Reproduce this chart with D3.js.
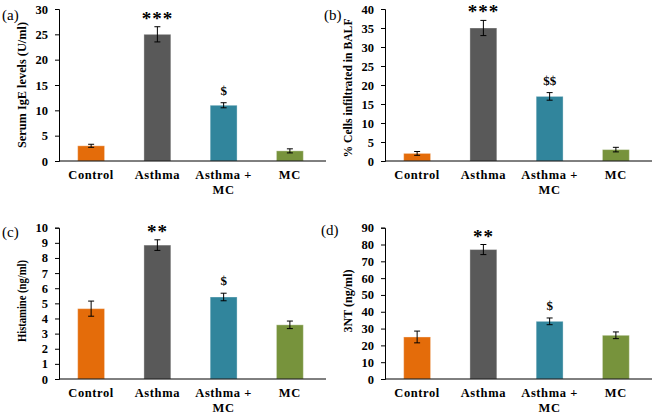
<!DOCTYPE html>
<html><head><meta charset="utf-8">
<script src="https://cdn.jsdelivr.net/npm/d3@7/dist/d3.min.js"></script>
<style>
body{margin:0;background:#fff;}
svg text{font-family:"Liberation Serif","Times New Roman",serif;}
</style></head>
<body><svg id="c" width="652" height="415"></svg>
<script>
const categories = ["Control","Asthma","Asthma + MC","MC"];
const colors = ["#E46C0A","#595959","#31859C","#77933C"];

const igeValues = [3.0, 25.0, 11.0, 2.0];
const igeErrors = [0.3, 1.5, 0.5, 0.4];
const igeMarks  = ["", "***", "$", ""];
const igeTicks  = [0,5,10,15,20,25,30];

const cellsValues = [2.0, 35.0, 17.0, 3.0];
const cellsErrors = [0.5, 2.0, 1.0, 0.6];
const cellsMarks  = ["", "***", "$$", ""];
const cellsTicks  = [0,5,10,15,20,25,30,35,40];

const histValues = [4.65, 8.85, 5.42, 3.58];
const histErrors = [0.5, 0.35, 0.25, 0.25];
const histMarks  = ["", "**", "$", ""];
const histTicks  = [0,1,2,3,4,5,6,7,8,9,10];

const ntValues = [25.0, 77.0, 34.3, 26.0];
const ntErrors = [3.5, 3.0, 2.0, 2.0];
const ntMarks  = ["", "**", "$", ""];
const ntTicks  = [0,10,20,30,40,50,60,70,80,90];

const FONT = '"Liberation Serif","Times New Roman",serif';

const panels = [
  {tag:"(a)", ox:0,   oy:0,   top:9,    bottom:161, max:30, ticks:igeTicks,   vals:igeValues,   errs:igeErrors,   marks:igeMarks,   label:"Serum IgE levels (U/ml)", labLen:126, labMid:85, tagX:2, tagY:15},
  {tag:"(b)", ox:326, oy:0,   top:9,    bottom:161, max:40, ticks:cellsTicks, vals:cellsValues, errs:cellsErrors, marks:cellsMarks, label:"% Cells infiltrated in BALF", labLen:139, labMid:88, tagX:-2, tagY:15},
  {tag:"(c)", ox:0,   oy:205, top:22.7, bottom:174, max:10, ticks:histTicks,  vals:histValues,  errs:histErrors,  marks:histMarks,  label:"Histamine (ng/ml)", labLen:82, labMid:96, tagX:2, tagY:27},
  {tag:"(d)", ox:326, oy:205, top:22.7, bottom:174, max:90, ticks:ntTicks,    vals:ntValues,    errs:ntErrors,    marks:ntMarks,    label:"3NT (ng/ml)", labLen:63, labMid:96, tagX:-5, tagY:25}
];

const svg = d3.select("#c");
const axisX = 59, axisEnd = 326;

panels.forEach(p => {
  const g = svg.append("g").attr("transform", `translate(${p.ox},${p.oy})`);
  const x = d3.scaleBand().domain(categories).range([58, 323]).paddingInner(0.594).paddingOuter(0.297);
  const y = d3.scaleLinear().domain([0, p.max]).range([p.bottom, p.top]);

  g.selectAll("rect.bar").data(categories).join("rect")
    .attr("class","bar")
    .attr("x", d => x(d)).attr("width", x.bandwidth())
    .attr("y", (d,i) => y(p.vals[i])).attr("height", (d,i) => y(0) - y(p.vals[i]))
    .attr("fill", (d,i) => colors[i])
    .attr("stroke", "rgba(255,255,255,0.35)").attr("stroke-width", 1);

  const cx = d => x(d) + x.bandwidth()/2;
  const eg = g.append("g").attr("stroke","#000").attr("stroke-width",1);
  categories.forEach((c,i) => {
    const v = p.vals[i], e = p.errs[i];
    eg.append("line").attr("x1",cx(c)).attr("x2",cx(c)).attr("y1",y(v-e)).attr("y2",y(v+e));
    eg.append("line").attr("x1",cx(c)-3).attr("x2",cx(c)+3).attr("y1",y(v-e)).attr("y2",y(v-e));
    eg.append("line").attr("x1",cx(c)-3).attr("x2",cx(c)+3).attr("y1",y(v+e)).attr("y2",y(v+e));
    const m = p.marks[i];
    if (m) {
      const star = m.includes("*");
      g.append("text").attr("x", cx(c)).attr("y", y(v+e) - (star ? 2 : 8))
        .attr("text-anchor","middle").attr("font-weight","bold").style("font-family",FONT)
        .attr("font-size", star ? 19 : 13).attr("letter-spacing", star ? 1 : 0)
        .text(m);
    }
  });

  const ya = d3.axisLeft(y).tickValues(p.ticks).tickSize(4).tickPadding(7).tickSizeOuter(4);
  const yg = g.append("g").attr("transform",`translate(${axisX},0)`).call(ya);
  yg.selectAll("text").attr("font-size",12.5).attr("font-weight","bold").attr("fill","#000")
    .style("font-family",FONT);
  yg.selectAll("line,path").attr("stroke","#000");

  g.append("line").attr("x1",axisX).attr("x2",axisEnd).attr("y1",y(0)).attr("y2",y(0))
    .attr("stroke","#000").attr("stroke-width",1);

  categories.forEach(c => {
    const t = g.append("text").attr("x", cx(c)).attr("y", p.bottom + 18)
      .attr("text-anchor","middle").attr("font-weight","bold").attr("font-size",12.5)
      .style("font-family",FONT).attr("letter-spacing",0.6);
    if (c === "Asthma + MC") {
      t.append("tspan").attr("x",cx(c)).attr("dy",0).text("Asthma +");
      t.append("tspan").attr("x",cx(c)).attr("dy",15).text("MC");
    } else t.text(c);
  });

  g.append("text").attr("transform",`translate(${axisX-33},${p.labMid}) rotate(-90)`)
    .attr("text-anchor","middle").attr("font-weight","bold").attr("font-size",12)
    .attr("textLength", p.labLen).attr("lengthAdjust","spacingAndGlyphs")
    .style("font-family",FONT).text(p.label);

  g.append("text").attr("x", p.tagX).attr("y", p.tagY + 5).attr("font-size",15)
    .style("font-family",FONT).text(p.tag);
});
</script></body></html>
